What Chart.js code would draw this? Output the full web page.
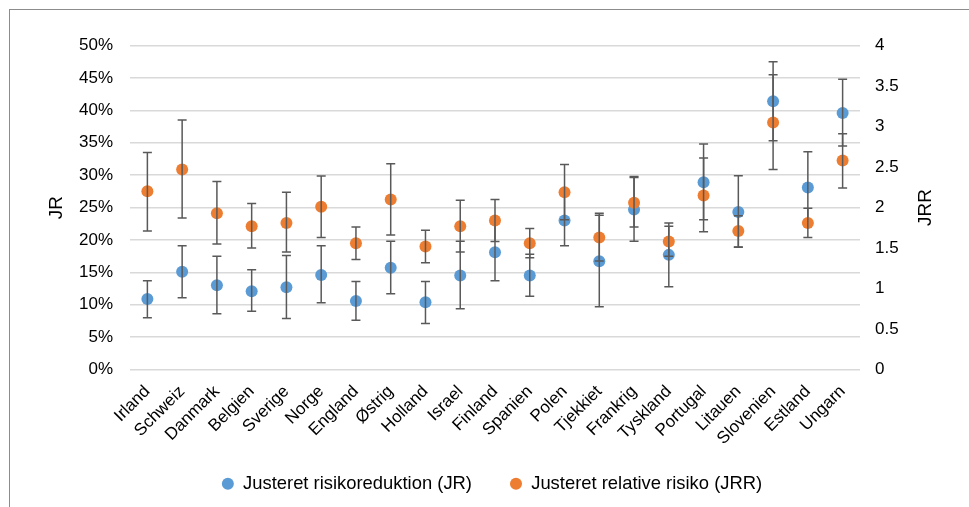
<!DOCTYPE html>
<html>
<head>
<meta charset="utf-8">
<script src="https://cdn.jsdelivr.net/npm/chart.js@4.4.1/dist/chart.umd.min.js"></script>
<style>
  html, body { margin: 0; padding: 0; background: #fff; }
  #wrap { position: relative; width: 969px; height: 507px; overflow: hidden; }
  #frame { position: absolute; left: 9px; top: 9px; width: 1000px; height: 600px;
           border-left: 1px solid #8c8c8c; border-top: 1px solid #8c8c8c; }
  canvas { position: absolute; left: 0; top: 0; }
</style>
</head>
<body>
<div id="wrap">
  <div id="frame"></div>
  <canvas id="mycanvas" width="969" height="507"></canvas>
</div>
<script>
var countries = ["Irland", "Schweiz", "Danmark", "Belgien", "Sverige", "Norge", "England", "Østrig", "Holland", "Israel", "Finland", "Spanien", "Polen", "Tjekkiet", "Frankrig", "Tyskland", "Portugal", "Litauen", "Slovenien", "Estland", "Ungarn"];

// Justeret risikoreduktion (JR), in percent
var jr     = [10.9, 15.1, 13.0, 12.1, 12.7, 14.6, 10.6, 15.7, 10.4, 14.5, 18.1, 14.5, 23.0, 16.7, 24.7, 17.7, 28.9, 24.3, 41.4, 28.1, 39.6];
var jrLow  = [8.0, 11.1, 8.6, 9.0, 7.9, 10.3, 7.6, 11.7, 7.1, 9.4, 13.7, 11.3, 19.1, 9.7, 19.8, 12.8, 23.1, 18.9, 35.3, 22.6, 34.5];
var jrHigh = [13.7, 19.1, 17.5, 15.4, 17.6, 19.1, 13.6, 19.8, 13.6, 19.8, 22.5, 17.8, 27.0, 23.8, 29.8, 22.6, 34.8, 29.9, 47.5, 33.6, 44.8];

// Justeret relative risiko (JRR)
var jrr     = [2.20, 2.47, 1.93, 1.77, 1.81, 2.01, 1.56, 2.10, 1.52, 1.77, 1.84, 1.56, 2.19, 1.63, 2.06, 1.58, 2.15, 1.71, 3.05, 1.81, 2.58];
var jrrLow  = [1.71, 1.87, 1.55, 1.50, 1.45, 1.63, 1.36, 1.66, 1.32, 1.45, 1.58, 1.38, 1.85, 1.34, 1.76, 1.40, 1.70, 1.51, 2.47, 1.63, 2.24];
var jrrHigh = [2.68, 3.08, 2.32, 2.05, 2.19, 2.39, 1.76, 2.54, 1.72, 2.09, 2.10, 1.74, 2.53, 1.93, 2.37, 1.77, 2.61, 1.90, 3.64, 1.99, 2.91];

var jrTicks = [0, 5, 10, 15, 20, 25, 30, 35, 40, 45, 50];
var jrrTicks = [0, 0.5, 1, 1.5, 2, 2.5, 3, 3.5, 4];

var errors = [
	{ low: jrLow, high: jrHigh },
	{ low: jrrLow, high: jrrHigh }
];

// draw the error bars right after each dataset, like Excel does
var errorBars = {
	id: "errorBars",
	afterDatasetDraw: function(chart, args) {
		var meta = args.meta;
		var err = errors[args.index];
		var ys = chart.scales[meta.yAxisID];
		var ctx = chart.ctx;
		ctx.save();
		ctx.strokeStyle = "#595959";
		ctx.lineWidth = 1.5;
		for (var i = 0; i < meta.data.length; i++) {
			var x = meta.data[i].x;
			var y1 = ys.getPixelForValue(err.low[i]);
			var y2 = ys.getPixelForValue(err.high[i]);
			ctx.beginPath();
			ctx.moveTo(x, y1); ctx.lineTo(x, y2);
			ctx.moveTo(x - 4.5, y1); ctx.lineTo(x + 4.5, y1);
			ctx.moveTo(x - 4.5, y2); ctx.lineTo(x + 4.5, y2);
			ctx.stroke();
		}
		ctx.restore();
	}
};

// right axis title reads bottom-to-top; also let the x labels run past the
// squeezed x-axis box so the legend can sit close under them
var extras = {
	id: "extras",
	afterLayout: function(chart) {
		chart.scales.x.bottom = chart.height;
	},
	afterDraw: function(chart) {
		var ctx = chart.ctx;
		var a = chart.chartArea;
		ctx.save();
		ctx.translate(a.right + 66, (a.top + a.bottom) / 2);
		ctx.rotate(-Math.PI / 2);
		ctx.fillStyle = "#000";
		ctx.font = "19px 'Liberation Sans', Arial, sans-serif";
		ctx.textAlign = "center";
		ctx.textBaseline = "middle";
		ctx.fillText("JRR", 0, 0);
		ctx.restore();
	}
};

Chart.defaults.font.family = "'Liberation Sans', Arial, sans-serif";
Chart.defaults.color = "#000";

var ctx = document.getElementById("mycanvas");

var chart = new Chart(ctx, {
	type: "line",
	data: {
		labels: countries,
		datasets: [
			{
				label: "Justeret risikoreduktion (JR)",
				data: jr,
				yAxisID: "y",
				showLine: false,
				pointRadius: 6,
				pointBorderWidth: 0,
				backgroundColor: "#5b9bd5",
				borderColor: "#5b9bd5",
				pointStyle: "circle",
				order: 2
			},
			{
				label: "Justeret relative risiko (JRR)",
				data: jrr,
				yAxisID: "y1",
				showLine: false,
				pointRadius: 6,
				pointBorderWidth: 0,
				backgroundColor: "#ed7d31",
				borderColor: "#ed7d31",
				pointStyle: "circle",
				order: 1
			}
		]
	},
	options: {
		responsive: false,
		animation: false,
		events: [],
		layout: { padding: { left: 40, right: 25, top: 45.5, bottom: 4 } },
		plugins: {
			tooltip: { enabled: false },
			legend: {
				position: "bottom",
				labels: {
					sort: function(a, b) { return a.datasetIndex - b.datasetIndex; },
					usePointStyle: true,
					boxWidth: 12,
					boxHeight: 8.5,
					padding: 38,
					font: { size: 18.4 }
				}
			}
		},
		scales: {
			x: {
				offset: true,
				grid: { display: false, drawTicks: false },
				border: { display: false },
				afterFit: function(s) { s.height = 67; },
				ticks: { minRotation: 45, maxRotation: 45, padding: 12, autoSkip: false, font: { size: 17 } }
			},
			y: {
				position: "left",
				min: 0,
				max: 50,
				afterBuildTicks: function(s) { s.ticks = jrTicks.map(function(v) { return { value: v }; }); },
				afterFit: function(s) { s.width = 90; },
				grid: { color: "#d9d9d9", lineWidth: 1.5, drawTicks: false },
				border: { display: false },
				ticks: { padding: 17, font: { size: 17 }, callback: function(v) { return v + "%"; } },
				title: { display: true, text: "JR", font: { size: 19 }, padding: { top: 5, bottom: 4 } }
			},
			y1: {
				position: "right",
				min: 0,
				max: 4,
				afterBuildTicks: function(s) { s.ticks = jrrTicks.map(function(v) { return { value: v }; }); },
				afterFit: function(s) { s.width = 84; },
				grid: { display: false, drawTicks: false },
				border: { display: false },
				ticks: { padding: 15, font: { size: 17 }, callback: function(v) { return String(v); } }
			}
		}
	},
	plugins: [errorBars, extras]
});
</script>
</body>
</html>
